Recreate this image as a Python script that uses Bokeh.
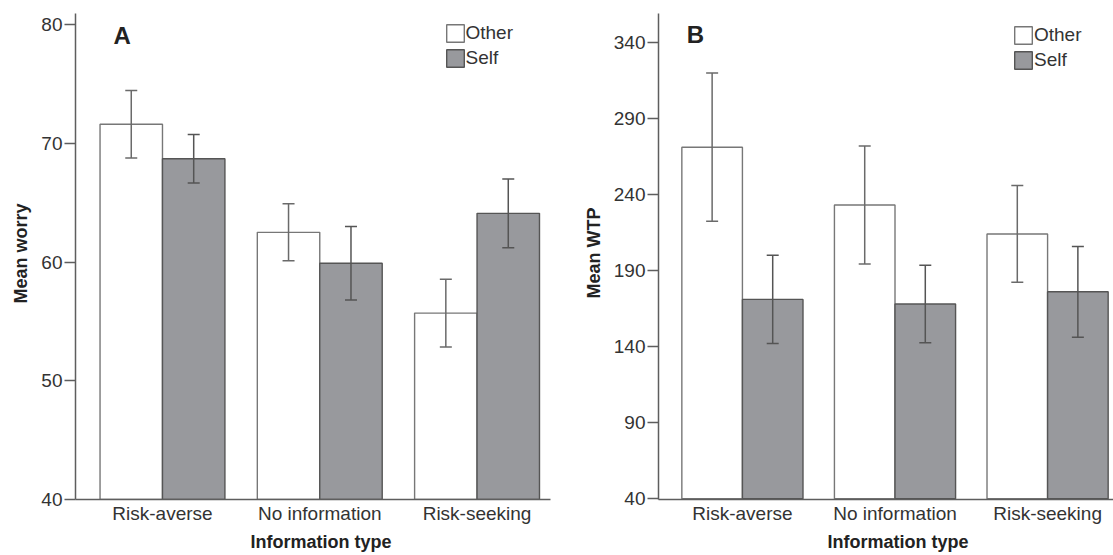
from bokeh.plotting import figure
from bokeh.layouts import row
from bokeh.models import (ColumnDataSource, Whisker, TeeHead, FixedTicker, Legend,
                          LegendItem, Label, Range1d, Title)
from bokeh.embed import file_html
from bokeh.resources import INLINE

# ---- data ----
categories = ["Risk-averse", "No information", "Risk-seeking"]
worry_other = [71.6, 62.5, 55.7]
worry_other_err = [2.85, 2.4, 2.85]
worry_self = [68.7, 59.9, 64.1]
worry_self_err = [2.05, 3.1, 2.9]
wtp_other = [271, 233, 214]
wtp_other_err = [48.7, 38.8, 31.8]
wtp_self = [171, 168, 176]
wtp_self_err = [29, 25.5, 29.8]
worry_ticks = [40, 50, 60, 70, 80]
wtp_ticks = [40, 90, 140, 190, 240, 290, 340]

FONT = "Liberation Sans"
AXIS_COL = "#5e5e5e"
TEXT_COL = "#333333"
SELF_FILL = "#98999d"
BAR_W = 0.397
OFF = BAR_W / 2
H = 555
BASE = 40


def panel(width, mb_left, mb_right, xr, yr, other, other_err,
          self_, self_err, ticks, letter, letter_xy, ylabel, ylab_standoff, ylab_offset,
          xlab_offset, legend_loc):
    p = figure(width=width, height=H, output_backend="svg", toolbar_location=None,
               x_range=Range1d(*xr), y_range=Range1d(*yr),
               min_border_left=mb_left, min_border_right=mb_right,
               min_border_top=13, min_border_bottom=56)
    p.outline_line_color = None
    p.xgrid.visible = False
    p.ygrid.visible = False
    idx = list(range(len(categories)))
    src_o = ColumnDataSource(dict(x=[i - OFF for i in idx], top=other,
                                  up=[v + e for v, e in zip(other, other_err)],
                                  lo=[v - e for v, e in zip(other, other_err)]))
    src_s = ColumnDataSource(dict(x=[i + OFF for i in idx], top=self_,
                                  up=[v + e for v, e in zip(self_, self_err)],
                                  lo=[v - e for v, e in zip(self_, self_err)]))
    r_o = p.vbar(x="x", top="top", bottom=BASE, width=BAR_W, source=src_o,
                 fill_color="white", line_color="#777777", line_width=1.4)
    r_s = p.vbar(x="x", top="top", bottom=BASE, width=BAR_W, source=src_s,
                 fill_color=SELF_FILL, line_color="#555555", line_width=1.4)
    for src, col in ((src_o, "#6a6a6a"), (src_s, "#555555")):
        w = Whisker(source=src, base="x", upper="up", lower="lo", dimension="height",
                    line_color=col, line_width=1.5, level="overlay",
                    upper_head=TeeHead(size=12, line_color=col, line_width=1.5),
                    lower_head=TeeHead(size=12, line_color=col, line_width=1.5))
        p.add_layout(w)

    # axes
    p.xaxis.ticker = FixedTicker(ticks=idx)
    p.xaxis.major_label_overrides = {i: c for i, c in zip(idx, categories)}
    p.xaxis.major_tick_out = 0
    p.xaxis.major_tick_in = 0
    p.xaxis.minor_tick_line_color = None
    p.xaxis.major_label_standoff = 3
    p.yaxis.ticker = FixedTicker(ticks=ticks)
    p.yaxis.major_tick_out = 11
    p.yaxis.major_tick_in = 0
    p.yaxis.minor_tick_line_color = None
    p.yaxis.major_label_standoff = 2
    for ax in (p.xaxis, p.yaxis):
        ax.axis_line_color = AXIS_COL
        ax.axis_line_width = 1.5
        ax.major_tick_line_color = AXIS_COL
        ax.major_tick_line_width = 1.5
        ax.major_label_text_font = FONT
        ax.major_label_text_font_size = "19px"
        ax.major_label_text_color = TEXT_COL

    # texts
    p.add_layout(Label(x=letter_xy[0], y=letter_xy[1], text=letter, text_font=FONT,
                       text_font_size="24px", text_font_style="bold",
                       text_color="#222222", text_baseline="alphabetic"))
    p.add_layout(Title(text=ylabel, align="left", offset=ylab_offset,
                       standoff=ylab_standoff, text_font=FONT, text_font_size="18px",
                       text_font_style="bold", text_color="#222222"), "left")
    p.add_layout(Title(text="Information type", align="left", offset=xlab_offset,
                       standoff=6, text_font=FONT, text_font_size="18px",
                       text_font_style="bold", text_color="#222222"), "below")

    leg = Legend(items=[LegendItem(label="Other", renderers=[r_o]),
                        LegendItem(label="Self", renderers=[r_s])],
                 location=legend_loc, orientation="vertical",
                 glyph_width=22, glyph_height=22, label_height=22, spacing=3,
                 padding=0, margin=0, label_standoff=0,
                 border_line_alpha=0, background_fill_alpha=0,
                 label_text_font=FONT, label_text_font_size="19px",
                 label_text_color=TEXT_COL, label_text_baseline="middle")
    p.add_layout(leg)
    return p


pA = panel(574, 75, 24, (-0.553, 2.467), (40, 80.93),
           worry_other, worry_other_err, worry_self, worry_self_err, worry_ticks,
           "A", (-0.312, 79.07), "Mean worry", 15, 196, 175, (368.5, 430.2))
pB = panel(539, 84, 0, (-0.550, 2.432), (39.54, 358.86),
           wtp_other, wtp_other_err, wtp_self, wtp_self_err, wtp_ticks,
           "B", (-0.365, 345.1), "Mean WTP", 13, 201, 169, (354, 428.2))

layout = row(pA, pB)
open("out.html", "w").write(file_html(layout, INLINE))
